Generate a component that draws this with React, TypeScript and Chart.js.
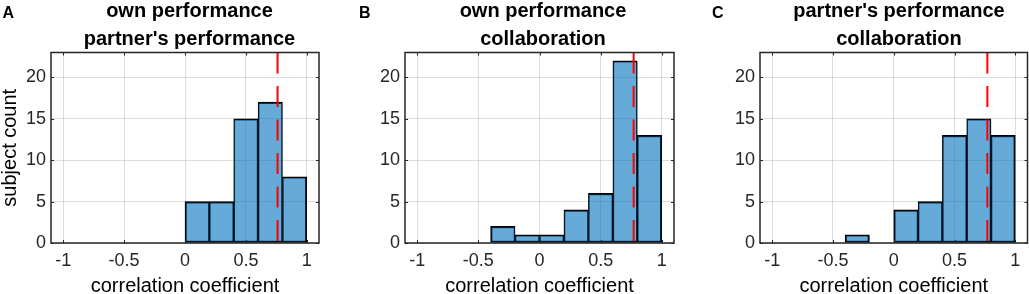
import React, { useEffect, useRef } from 'react';
import { Chart, registerables } from 'chart.js';

Chart.register(...registerables);

// ---------------- data ----------------
const binEdges = [-1, -0.8, -0.6, -0.4, -0.2, 0, 0.2, 0.4, 0.6, 0.8, 1];
const countsA = [0, 0, 0, 0, 0, 5, 5, 15, 17, 8];
const countsB = [0, 0, 0, 2, 1, 1, 4, 6, 22, 13];
const countsC = [0, 0, 0, 1, 0, 4, 5, 13, 15, 13];
const refLineA = 0.76;
const refLineB = 0.77;
const refLineC = 0.77;
const titleA = ['own performance', "partner's performance"];
const titleB = ['own performance', 'collaboration'];
const titleC = ["partner's performance", 'collaboration'];
const panelLetters = ['A', 'B', 'C'];
const xTickValues = [-1, -0.5, 0, 0.5, 1];
const xTickLabels = ['-1', '-0.5', '0', '0.5', '1'];
const yTickValues = [0, 5, 10, 15, 20];
const yTickLabels = ['0', '5', '10', '15', '20'];
const xLabel = 'correlation coefficient';
const yLabel = 'subject count';
const xMin = -1.1;
const xMax = 1.1;
const yMin = 0;
const yMax = 23;

// ---------------- style / layout ----------------
const FONT = "'Liberation Sans', Arial, Helvetica, sans-serif";
const AXIS_COLOR = '#262626';
const BAR_FILL = 'rgba(0,114,189,0.6)';
const BAR_EDGE = '#000000';
const GRID_COLOR = 'rgba(38,38,38,0.16)';
const CANVAS_TOP = -6;
const CANVAS_H = 303;

const layouts = [
  { left: 0, width: 384, yAxisW: 51, padR: 5, rightW: 60, letterX: 2.5 },
  { left: 365, width: 361, yAxisW: 40, padR: 5, rightW: 47, letterX: 359 },
  { left: 720, width: 363, yAxisW: 40, padR: 5, rightW: 50.5, letterX: 712 },
];

const panelData = [
  { counts: countsA, title: titleA, refLine: refLineA, showYTitle: true },
  { counts: countsB, title: titleB, refLine: refLineB, showYTitle: false },
  { counts: countsC, title: titleC, refLine: refLineC, showYTitle: false },
];

function makePoints(counts: number[]) {
  const pts: { x: number; y: number }[] = [];
  counts.forEach((c, i) => {
    if (c > 0) pts.push({ x: (binEdges[i] + binEdges[i + 1]) / 2, y: c });
  });
  return pts;
}

function makeOverlay(refLine: number) {
  return {
    id: 'matlabOverlay',
    afterDatasetsDraw(chart: any) {
      const { ctx, chartArea: a, scales } = chart;
      const x = scales.x.getPixelForValue(refLine);
      ctx.save();
      ctx.strokeStyle = '#ff0000';
      ctx.lineWidth = 2;
      ctx.setLineDash([21, 12.5]);
      ctx.beginPath();
      ctx.moveTo(x, a.top);
      ctx.lineTo(x, a.bottom);
      ctx.stroke();
      ctx.restore();
    },
    afterDraw(chart: any) {
      const { ctx, chartArea: a, scales } = chart;
      const tl = 3;
      ctx.save();
      ctx.strokeStyle = AXIS_COLOR;
      ctx.lineWidth = 1;
      ctx.beginPath();
      xTickValues.forEach((v) => {
        const px = Math.round(scales.x.getPixelForValue(v)) + 0.5;
        ctx.moveTo(px, a.bottom);
        ctx.lineTo(px, a.bottom - tl);
        ctx.moveTo(px, a.top);
        ctx.lineTo(px, a.top + tl);
      });
      yTickValues.forEach((v) => {
        const py = Math.round(scales.y.getPixelForValue(v)) + 0.5;
        ctx.moveTo(a.left, py);
        ctx.lineTo(a.left + tl, py);
        ctx.moveTo(a.right, py);
        ctx.lineTo(a.right - tl, py);
      });
      ctx.stroke();
      ctx.lineWidth = 1.5;
      ctx.strokeRect(a.left, a.top, a.right - a.left, a.bottom - a.top);
      ctx.restore();
    },
  };
}

function Panel({ idx }: { idx: number }) {
  const ref = useRef<HTMLCanvasElement>(null);
  const lay = layouts[idx];
  const pd = panelData[idx];
  useEffect(() => {
    const binW = binEdges[1] - binEdges[0];
    const points = makePoints(pd.counts);
    const has = (x: number) => points.some((p) => Math.abs(p.x - x) < 1e-6);
    const chart = new Chart(ref.current as HTMLCanvasElement, {
      type: 'bar',
      data: {
        datasets: [
          {
            data: points as any,
            xAxisID: 'x',
            yAxisID: 'y',
            backgroundColor: BAR_FILL,
            borderColor: BAR_EDGE,
            borderSkipped: false,
            borderWidth: (c: any) => {
              const p = c.raw;
              if (!p) return 1.5;
              return {
                left: has(p.x - binW) ? 1 : 1.5,
                right: has(p.x + binW) ? 1 : 1.5,
                top: 1.5,
                bottom: 1.5,
              };
            },
            barPercentage: 1,
            categoryPercentage: 1,
          } as any,
        ],
      },
      options: {
        animation: false,
        responsive: false,
        events: [],
        layout: { padding: { left: 0, right: lay.padR, top: 0, bottom: 0 } },
        plugins: {
          legend: { display: false },
          tooltip: { enabled: false },
          title: {
            display: true,
            text: pd.title,
            color: '#000000',
            font: { family: FONT, size: 20, weight: 'bold', lineHeight: 1.415 },
            padding: { top: 3.5, bottom: -1.6 },
          },
        },
        scales: {
          x: {
            type: 'linear',
            min: xMin,
            max: xMax,
            offset: false,
            afterBuildTicks: (s: any) => {
              s.ticks = xTickValues.map((v) => ({ value: v }));
            },
            afterFit: (s: any) => {
              s.height = 54;
            },
            grid: { offset: false, color: GRID_COLOR, lineWidth: 1, drawTicks: false },
            border: { display: false },
            ticks: {
              autoSkip: false,
              maxRotation: 0,
              padding: 7,
              color: AXIS_COLOR,
              font: { family: FONT, size: 18 },
              callback: (_v: any, i: number) => xTickLabels[i],
            },
            title: {
              display: true,
              text: xLabel,
              color: '#000000',
              font: { family: FONT, size: 20, lineHeight: 1 },
              padding: { top: 0, bottom: 0.6 },
            },
          },
          y: {
            type: 'linear',
            position: 'left',
            min: yMin,
            max: yMax,
            afterBuildTicks: (s: any) => {
              s.ticks = yTickValues.map((v) => ({ value: v }));
            },
            afterFit: (s: any) => {
              s.width = lay.yAxisW;
            },
            grid: { color: GRID_COLOR, lineWidth: 1, drawTicks: false },
            border: { display: false },
            ticks: {
              autoSkip: false,
              padding: 5,
              color: AXIS_COLOR,
              font: { family: FONT, size: 18 },
              callback: (_v: any, i: number) => yTickLabels[i],
            },
            title: {
              display: pd.showYTitle,
              text: yLabel,
              color: '#000000',
              font: { family: FONT, size: 20, lineHeight: 1 },
              padding: { top: 0, bottom: 0 },
            },
          },
          yPad: {
            type: 'linear',
            position: 'right',
            display: true,
            min: 0,
            max: 1,
            afterFit: (s: any) => {
              s.width = lay.rightW;
            },
            grid: { display: false, drawTicks: false },
            border: { display: false },
            ticks: { display: false },
          },
        },
      } as any,
      plugins: [makeOverlay(pd.refLine)],
    });
    return () => chart.destroy();
  }, []);
  return (
    <canvas
      ref={ref}
      width={lay.width}
      height={CANVAS_H}
      style={{ position: 'absolute', left: lay.left, top: CANVAS_TOP, width: lay.width, height: CANVAS_H }}
    />
  );
}

export default function App() {
  return (
    <div
      style={{
        position: 'absolute',
        left: 0,
        top: 0,
        width: 1029,
        height: 294,
        overflow: 'hidden',
        background: '#ffffff',
      }}
    >
      {panelLetters.map((l, i) => (
        <span
          key={l}
          style={{
            position: 'absolute',
            left: layouts[i].letterX,
            top: 5,
            font: `bold 16px ${FONT}`,
            lineHeight: '16px',
            color: '#000',
            zIndex: 2,
          }}
        >
          {l}
        </span>
      ))}
      {[0, 1, 2].map((i) => (
        <Panel key={i} idx={i} />
      ))}
    </div>
  );
}
